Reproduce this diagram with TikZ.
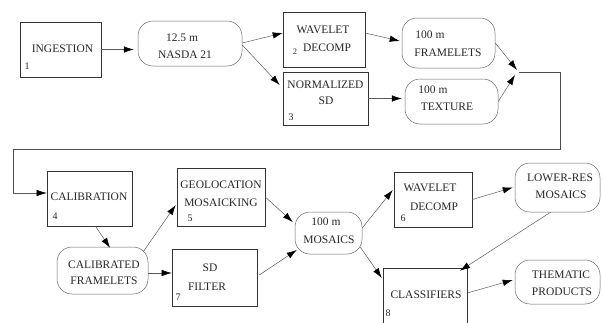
\documentclass[tikz,border=0pt]{standalone}
\usepackage{fontspec}
\setmainfont{Liberation Serif}
\usetikzlibrary{arrows.meta}
\tikzset{
  procbox/.style={draw=black!80, line width=0.6pt, rectangle, inner sep=0pt},
  databox/.style={draw=black!60, line width=0.5pt, rectangle, rounded corners=15pt, inner sep=0pt},
  lbl/.style={inner sep=0pt, text=black!85, font=\fontsize{11.5}{17}\selectfont, align=center},
  num/.style={inner sep=0pt, text=black!85, font=\fontsize{10}{12}\selectfont},
  flow/.style={draw=black!65, line width=0.5pt, -{Latex[length=10pt,width=6.5pt,color=black]}},
  loopline/.style={draw=black!70, line width=0.9pt}
}
\begin{document}
\begin{tikzpicture}[x=1pt,y=-1pt]
\useasboundingbox (0,0) rectangle (603,322);

% processing steps
\node[procbox, minimum width=81pt, minimum height=55pt] (ing) at (60.5,49.5) {};
\node[procbox, minimum width=82pt, minimum height=55pt] (wav2) at (324,39.5) {};
\node[procbox, minimum width=85pt, minimum height=53pt] (norm) at (325.5,98.5) {};
\node[procbox, minimum width=85pt, minimum height=55pt] (calib) at (89.5,198.5) {};
\node[procbox, minimum width=88pt, minimum height=58pt] (geo) at (221,197) {};
\node[procbox, minimum width=85pt, minimum height=57pt] (sd) at (214.5,277.5) {};
\node[procbox, minimum width=78pt, minimum height=55pt] (wav6) at (433,199.5) {};
\node[procbox, minimum width=84pt, minimum height=67pt] (cls) at (425,301.5) {};

% data products
\node[databox, minimum width=104pt, minimum height=45pt] (nasda) at (190,43.5) {};
\node[databox, minimum width=93pt, minimum height=50pt] (fram) at (448.5,43) {};
\node[databox, minimum width=93pt, minimum height=45pt] (tex) at (451.5,101.5) {};
\node[databox, minimum width=91pt, minimum height=47pt] (calfr) at (102.5,270.5) {};
\node[databox, minimum width=67pt, minimum height=42pt] (mos) at (328.5,233) {};
\node[databox, minimum width=85pt, minimum height=49pt] (low) at (557.5,187.5) {};
\node[databox, minimum width=85pt, minimum height=44pt] (thm) at (557.5,282) {};

% labels
\node[lbl] (tIng) at (62.5,49) {INGESTION};
\node[num] (n1) at (27,66) {1};
\node[lbl] (tNasdaA) at (182,38) {12.5 m};
\node[lbl] (tNasdaB) at (185,55) {NASDA 21};
\node[lbl] (tWavA) at (323,30) {WAVELET};
\node[lbl] (tWavB) at (327,48) {DECOMP};
\node[num, font=\fontsize{8.5}{10}\selectfont] (n2) at (295,52) {2};
\node[lbl] (tNormA) at (325.5,85) {NORMALIZED};
\node[lbl] (tNormB) at (326,101) {SD};
\node[num] (n3) at (291,117) {3};
\node[lbl] (tFramA) at (430,35) {100 m};
\node[lbl] (tFramB) at (448,53) {FRAMELETS};
\node[lbl] (tTexA) at (433,90) {100 m};
\node[lbl] (tTexB) at (447,107) {TEXTURE};
\node[lbl] (tCal) at (89,197) {CALIBRATION};
\node[num] (n4) at (55,216) {4};
\node[lbl] (tGeoA) at (221,185) {GEOLOCATION};
\node[lbl] (tGeoB) at (221,203) {MOSAICKING};
\node[num] (n5) at (190,218) {5};
\node[lbl] (tCfA) at (104,265) {CALIBRATED};
\node[lbl] (tCfB) at (104,281) {FRAMELETS};
\node[lbl] (tSdA) at (210,268) {SD};
\node[lbl] (tSdB) at (207,287) {FILTER};
\node[num] (n7) at (178,297) {7};
\node[lbl] (tMosA) at (326,222) {100 m};
\node[lbl] (tMosB) at (329,240) {MOSAICS};
\node[lbl] (tW6A) at (430,188) {WAVELET};
\node[lbl] (tW6B) at (434,207) {DECOMP};
\node[num] (n6) at (403,218) {6};
\node[lbl] (tLowA) at (560,178) {LOWER-RES};
\node[lbl] (tLowB) at (561,195) {MOSAICS};
\node[lbl] (tCls) at (426,295) {CLASSIFIERS};
\node[num] (n8) at (388,313) {8};
\node[lbl] (tThmA) at (561,275) {THEMATIC};
\node[lbl] (tThmB) at (562,292) {PRODUCTS};

% junction of the two 100 m products and the return path
\coordinate (m) at (519,72);
\coordinate (r1) at (560,72);
\coordinate (r2) at (560,149);
\coordinate (r3) at (13,149);
\coordinate (cin) at (13,193);
\coordinate (cfout) at ([yshift=-2.5pt]calfr.east);

% connectors, first row
\draw[flow] (ing.east) -- ([xshift=-4pt]nasda.west |- ing.east);
\draw[flow] ([yshift=0.5pt]nasda.east) -- ([yshift=6.5pt]wav2.west);
\draw[flow] ([yshift=-1.5pt]nasda.east) -- ([xshift=-3pt,yshift=13.5pt]norm.west);
\draw[flow] ([yshift=6.5pt]wav2.east) -- ([xshift=-2pt,yshift=2pt]fram.west);
\draw[flow] (norm.east) -- ([xshift=-3pt]tex.west |- norm.east);
\draw[flow] (fram.east) -- ([xshift=-2pt,yshift=2pt]m);
\draw[flow] (tex.east) -- ([xshift=-4pt,yshift=-3pt]m);
\draw[loopline] (m) -- (r1) -- (r2) -- (r3) -- (cin);
\draw[flow] (cin) -- (calib.west |- cin);

% connectors, second row
\draw[flow] ([xshift=6pt]calib.south) -- ([xshift=7.5pt,yshift=-1pt]calfr.north);
\draw[flow] ([xshift=-5pt,yshift=-5pt]calfr.north east) -- ([xshift=-1pt,yshift=-8pt]geo.west);
\draw[flow] (cfout) -- (sd.west |- cfout);
\draw[flow] (geo.east) -- ([xshift=-2pt,yshift=11pt]mos.west);
\draw[flow] ([xshift=2pt,yshift=2.5pt]sd.east) -- ([xshift=2pt,yshift=-17pt]mos.west);
\draw[flow] ([yshift=5pt]mos.east) -- ([xshift=-1pt,yshift=9.5pt]wav6.west);
\draw[flow] ([xshift=-2pt,yshift=-14pt]mos.east) -- ([xshift=-1pt,yshift=23.5pt]cls.west);
\draw[flow] (wav6.east) -- ([xshift=-2pt]low.west);
\draw[flow] ([xshift=-7pt]low.south) -- ([xshift=35pt,yshift=-3pt]cls.north);
\draw[flow] ([yshift=8.5pt]cls.east) -- ([xshift=-2pt,yshift=2pt]thm.west);
\end{tikzpicture}
\end{document}
